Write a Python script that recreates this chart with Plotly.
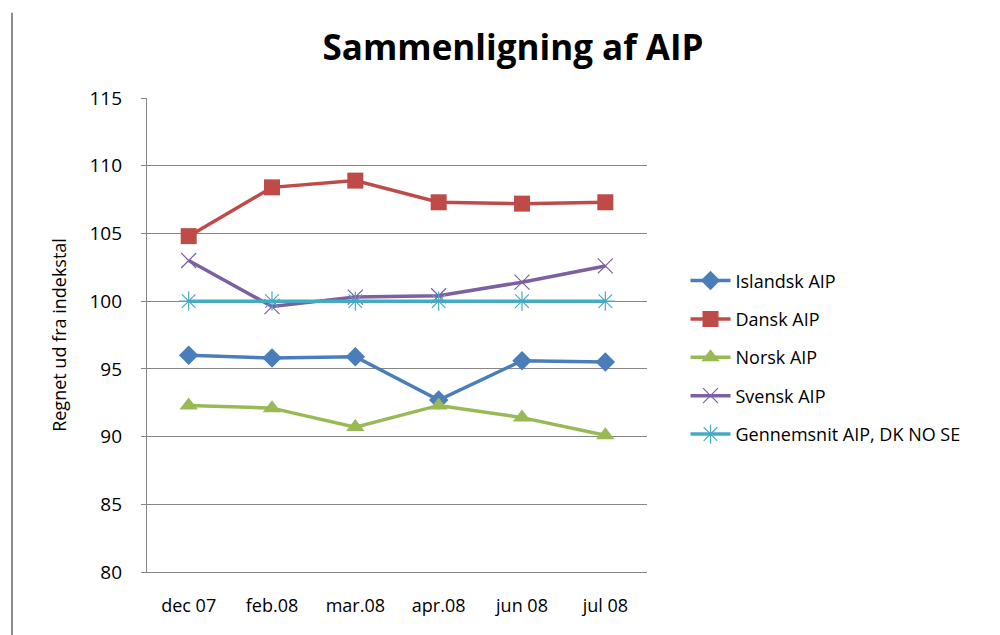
import plotly.graph_objects as go

months = ["dec 07", "feb.08", "mar.08", "apr.08", "jun 08", "jul 08"]
islandsk = [96.0, 95.8, 95.9, 92.7, 95.6, 95.5]
dansk = [104.8, 108.4, 108.9, 107.3, 107.2, 107.3]
norsk = [92.3, 92.1, 90.7, 92.3, 91.4, 90.1]
svensk = [103.0, 99.6, 100.3, 100.4, 101.4, 102.6]
gennemsnit = [100, 100, 100, 100, 100, 100]

y_ticks = [80, 85, 90, 95, 100, 105, 110, 115]

FONT = "Open Sans"

series = [
    ("Islandsk AIP", islandsk, "#4A7EBB", "diamond", 15, None),
    ("Dansk AIP", dansk, "#BE4B48", "square", 16, None),
    ("Norsk AIP", norsk, "#98B954", "triangle-up", 16, None),
    ("Svensk AIP", svensk, "#7D60A0", "x-thin", 15, 1.2),
    ("Gennemsnit AIP, DK NO SE", gennemsnit, "#46AAC5", "asterisk-open", 16, 1.2),
]

fig = go.Figure()
for i, (name, vals, color, sym, size, mlw) in enumerate(series):
    marker = dict(symbol=sym, size=size, color=color)
    if mlw is not None:
        marker["line"] = dict(color=color, width=mlw)
    fig.add_trace(go.Scatter(
        x=months, y=vals, name=name, mode="lines+markers",
        line=dict(color=color, width=3.5), marker=marker,
        legendgroup=f"g{i}",
    ))

fig.update_layout(
    width=1000, height=635,
    margin=dict(l=147, r=353, t=98, b=63),
    paper_bgcolor="white", plot_bgcolor="white",
    font=dict(family=FONT, size=17, color="#000000"),
    title=dict(text="<b>Sammenligning af AIP</b>", x=0.513, xref="container",
               xanchor="center", y=0.925, yanchor="middle",
               font=dict(family=FONT, size=35, color="#000000")),
    showlegend=True,
    legend=dict(x=1.077, y=0.453, xanchor="left", yanchor="middle",
                font=dict(family=FONT, size=18, color="#000000"),
                tracegroupgap=12, itemwidth=40, bgcolor="rgba(0,0,0,0)"),
    xaxis=dict(type="category", showgrid=False, showline=True,
               linecolor="#868686", linewidth=1.2, ticks="",
               tickfont=dict(family=FONT, size=18), range=[-0.5, 5.5],
               ticklabelstandoff=17),
    yaxis=dict(range=[80, 115], tickvals=y_ticks, showgrid=True,
               gridcolor="#868686", gridwidth=1.2, showline=True,
               linecolor="#868686", linewidth=1.2, ticks="outside",
               ticklen=5, tickcolor="#868686", zeroline=False,
               tickfont=dict(family=FONT, size=19), ticklabelstandoff=15,
               title=dict(text="Regnet ud fra indekstal", standoff=18,
                          font=dict(family=FONT, size=18, color="#000000"))),
    shapes=[dict(type="line", xref="paper", yref="paper",
                 x0=-0.27, x1=-0.27, y0=-0.14, y1=1.18,
                 line=dict(color="#8c8c8c", width=2))],
)

fig.write_html("out.html")
